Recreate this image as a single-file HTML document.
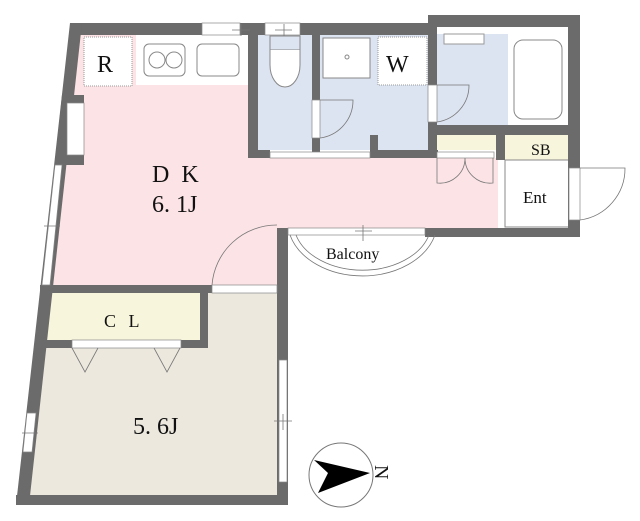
<!DOCTYPE html><html><head><style>body{margin:0;background:#fff}svg{display:block}text{font-family:"Liberation Serif",serif;fill:#111}</style></head><body>
<svg width="640" height="521" viewBox="0 0 640 521">
<polygon points="80,35 248,35 248,158 498,158 498,228 277,228 277,285 50,285" fill="#fce3e6"/>
<rect x="258" y="35" width="54" height="115" fill="#dde4f1"/>
<rect x="320" y="35" width="108" height="115" fill="#dde4f1"/>
<rect x="437" y="33" width="71" height="92" fill="#dde4f1"/>
<polygon points="50,292 277,292 277,495 28,495" fill="#ece8de"/>
<rect x="47" y="293" width="153" height="47" fill="#f7f5dc"/>
<rect x="437" y="135" width="59" height="15" fill="#f7f5dc"/>
<rect x="505" y="135" width="63" height="25" fill="#f7f5dc"/>
<rect x="505" y="160" width="64" height="67" fill="#fff" stroke="#888" stroke-width="1"/>
<rect x="84" y="37" width="48" height="49" fill="#fff" stroke="#999" stroke-dasharray="1,1"/>
<rect x="136" y="35" width="112" height="50" fill="#fff"/>
<rect x="144" y="44" width="41" height="32" rx="5" fill="none" stroke="#888"/>
<circle cx="157" cy="60" r="8" fill="none" stroke="#888"/><circle cx="174" cy="60" r="8" fill="none" stroke="#888"/>
<rect x="197" y="44" width="42" height="32" rx="5" fill="none" stroke="#888"/>
<rect x="270" y="36" width="30" height="14" fill="none" stroke="#888"/>
<path d="M270 50 L270 65 A15 22 0 0 0 300 65 L300 50" fill="#fff" stroke="#888"/>
<rect x="323" y="38" width="47" height="40" fill="#fff" stroke="#888"/>
<circle cx="347" cy="57" r="2" fill="none" stroke="#888"/>
<rect x="378" y="37" width="49" height="48" fill="#fff" stroke="#999" stroke-dasharray="1,1"/>
<rect x="437" y="27" width="131" height="7" fill="#fff"/>
<rect x="444" y="34" width="40" height="10" fill="#fff" stroke="#999"/>
<rect x="508" y="34" width="60" height="91" fill="#fff"/>
<rect x="514" y="40" width="48" height="79" rx="9" fill="none" stroke="#888"/>
<g fill="#6b6b6b">
<rect x="70" y="23" width="362" height="12"/>
<polygon points="428,15 580,15 580,237 568,237 568,27 428,27"/>
<polygon points="70,23 82,23 29,505 16,505"/>
<polygon points="62,95 84,95 84,165 55,165"/>
<rect x="248" y="35" width="10" height="123"/>
<rect x="312" y="35" width="8" height="123"/>
<rect x="248" y="150" width="22" height="8"/>
<rect x="370" y="135" width="8" height="23"/>
<rect x="370" y="150" width="68" height="8"/>
<rect x="428" y="27" width="9" height="131"/>
<rect x="428" y="125" width="142" height="10"/>
<rect x="496" y="135" width="9" height="25"/>
<rect x="425" y="228" width="155" height="9"/>
<rect x="277" y="228" width="11" height="277"/>
<rect x="40" y="285" width="172" height="8"/>
<rect x="16" y="495" width="272" height="10"/>
<rect x="200" y="285" width="8" height="63"/>
<rect x="45" y="340" width="163" height="8"/>
</g>
<g fill="#fff" stroke="#888" stroke-width="0.7">
<rect x="202" y="23" width="38" height="12"/>
<rect x="265" y="23" width="35" height="12"/>
<rect x="270" y="152" width="100" height="6"/>
<rect x="312" y="100" width="8" height="38"/>
<rect x="428" y="85" width="9" height="37"/>
<rect x="569" y="168" width="11" height="52"/>
<rect x="288" y="228" width="137" height="7"/>
<rect x="72" y="340" width="109" height="8"/>
<rect x="212" y="285" width="65" height="8"/>
<rect x="279" y="360" width="8" height="122"/>
<rect x="437" y="152" width="57" height="6"/>
<polygon points="55,165 62,165 50,285 42,285"/>
<rect x="67" y="103" width="17" height="52"/>
<polygon points="27,413 36,413 32,452 23,452"/>
</g>
<g fill="none" stroke="#777" stroke-width="0.8">
<path d="M212 285 A65 65 0 0 1 277 225"/>
<path d="M320 138 A38 38 0 0 0 353 100 L320 100"/>
<path d="M437 122 A37 37 0 0 0 469 85 L437 85"/>
<path d="M580 220 A52 52 0 0 0 625 168 L580 168"/>
<path d="M437 158 L437 183 A25 25 0 0 0 465 158 A25 25 0 0 0 493 183 L493 158"/>
<path d="M290 235 A75 55 0 0 0 435 235"/>
<path d="M296 235 A69 48 0 0 0 429 235"/>
<path d="M72 348 L85 372 L98 348 M154 348 L167 372 L180 348"/>
<path d="M232 30 H250 M241 24 V36 M275 30 H292 M284 24 V36 M355 231 H372 M363 225 V241 M274 421 H292 M283 414 V430 M22 433 H38 M44 226 H60"/>
</g>
<text x="97" y="72" font-size="24">R</text>
<text x="386" y="72" font-size="24">W</text>
<text x="152" y="182" font-size="24" letter-spacing="3">D K</text>
<text x="152" y="212" font-size="24">6. 1J</text>
<text x="531" y="155" font-size="16">SB</text>
<text x="523" y="203" font-size="17">Ent</text>
<text x="326" y="259" font-size="16">Balcony</text>
<text x="104" y="327" font-size="18" letter-spacing="4">C L</text>
<text x="133" y="434" font-size="24">5. 6J</text>
<circle cx="341" cy="475" r="32" fill="none" stroke="#777"/>
<polygon points="314,460 370,473 318,493 328,473" fill="#000"/>
<text x="372" y="482" font-size="20" transform="rotate(90 382 475)">N</text>
</svg></body></html>
